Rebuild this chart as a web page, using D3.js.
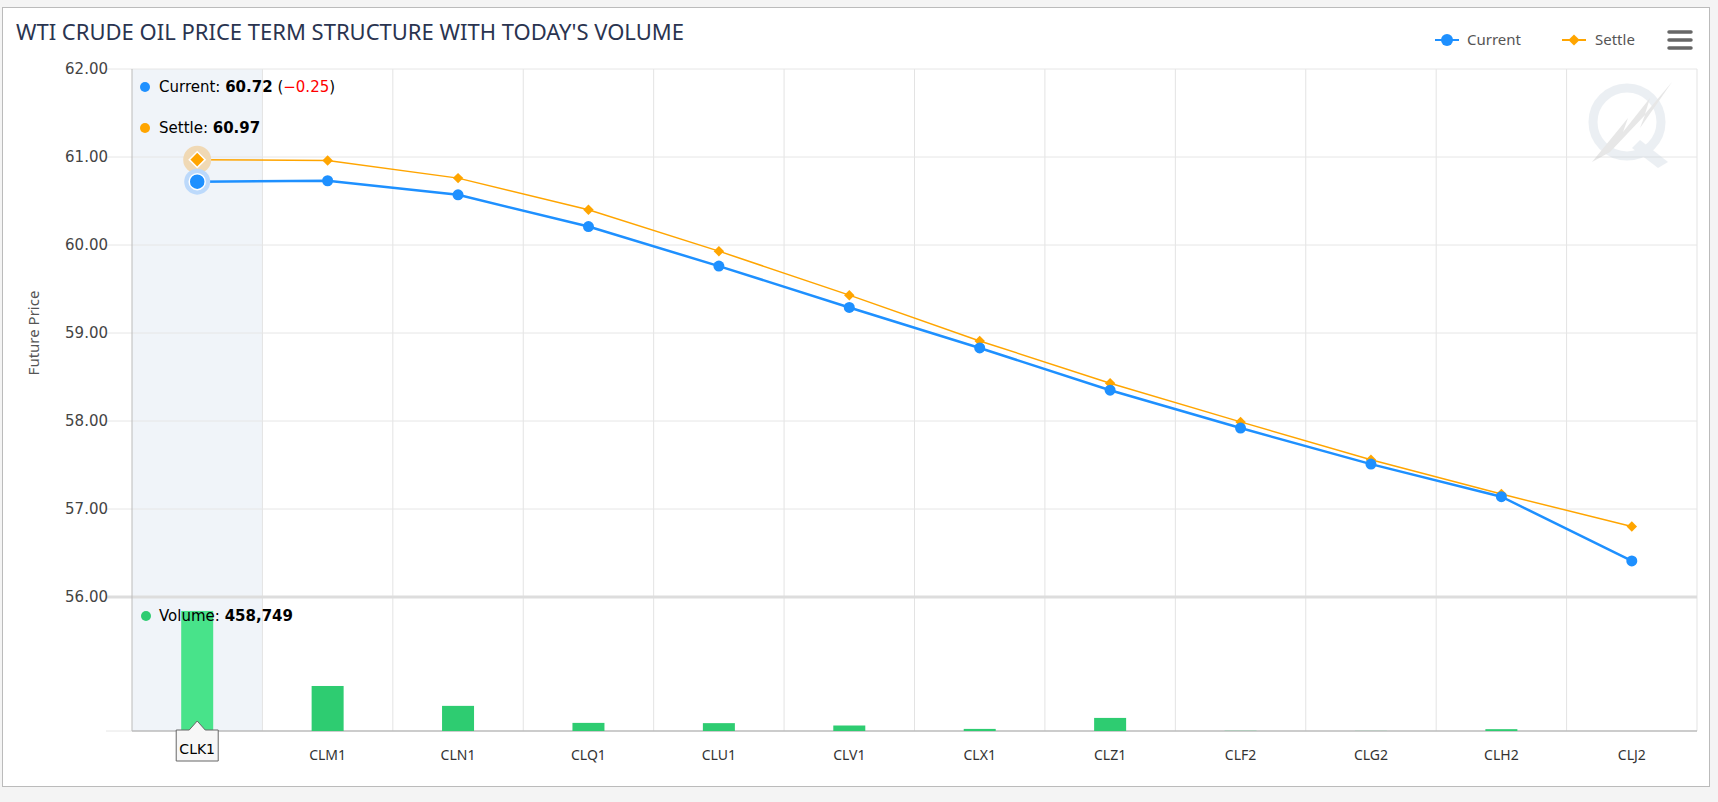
<!DOCTYPE html>
<html><head><meta charset="utf-8">
<script src="https://cdn.jsdelivr.net/npm/d3@7"></script>
<style>
body{margin:0;background:#f4f4f4;}
svg{display:block;font-family:"Noto Sans","Open Sans",sans-serif;}
</style></head><body>
<script>
const contracts = ["CLK1","CLM1","CLN1","CLQ1","CLU1","CLV1","CLX1","CLZ1","CLF2","CLG2","CLH2","CLJ2"];
const current = [60.72,60.73,60.57,60.21,59.76,59.29,58.83,58.35,57.92,57.51,57.14,56.41];
const settle = [60.97,60.96,60.76,60.40,59.93,59.43,58.91,58.43,57.99,57.56,57.17,56.80];
const volume = [458749,172000,96000,31000,30000,21000,8000,50000,600,300,7000,0];
const priceTicks = [56,57,58,59,60,61,62];

const W = 1718, H = 802;
const L = 132, R = 1697, T = 69, PB = 597, B = 731;
const svg = d3.select("body").append("svg").attr("width", W).attr("height", H);
svg.append("rect").attr("x",2.5).attr("y",7.5).attr("width",1707).attr("height",779)
  .attr("fill","#fff").attr("stroke","#bbb");

const x = d3.scaleBand().domain(contracts).range([L, R]);
const y = d3.scaleLinear().domain([56, 62]).range([PB, T]);
const yv = d3.scaleLinear().domain([0, 512000]).range([B, PB]);

// hover band
svg.append("rect").attr("x", x("CLK1")).attr("y", T).attr("width", x.bandwidth()).attr("height", B - T).attr("fill","#f0f4f9");

// grid
const g = svg.append("g");
g.selectAll(".vg").data(contracts.slice(1).concat(["end"])).enter().append("line")
  .attr("x1", (d,i) => L + (i+1)*x.bandwidth()).attr("x2", (d,i) => L + (i+1)*x.bandwidth())
  .attr("y1", T).attr("y2", B).attr("stroke","#e3e3e3");
g.selectAll(".hg").data(priceTicks).enter().append("line")
  .attr("x1", L - 26).attr("x2", R).attr("y1", d => y(d)).attr("y2", d => y(d))
  .attr("stroke", d => d === 56 ? "#ddd" : "#e6e6e6").attr("stroke-width", d => d === 56 ? 3 : 1);
g.append("line").attr("x1", L - 26).attr("x2", L).attr("y1", B).attr("y2", B).attr("stroke","#e6e6e6");
g.append("line").attr("x1", L).attr("x2", L).attr("y1", T).attr("y2", B).attr("stroke","#bbb");
g.append("line").attr("x1", L).attr("x2", R).attr("y1", B).attr("y2", B).attr("stroke","#bbb").attr("stroke-width",1.5);

// y axis labels
svg.append("g").selectAll("text").data(priceTicks).enter().append("text")
  .attr("x", 108).attr("y", d => y(d) + 5).attr("text-anchor","end")
  .attr("font-size", 15).attr("fill","#444").attr("font-family","DejaVu Sans").text(d => d.toFixed(2));
svg.append("text").attr("transform","translate(39,333) rotate(-90)").attr("text-anchor","middle")
  .attr("font-size",15).attr("fill","#555").text("Future Price");

// x labels
svg.append("g").selectAll("text").data(contracts).enter().append("text")
  .attr("x", d => x(d) + x.bandwidth()/2).attr("y", 760).attr("text-anchor","middle")
  .attr("font-size",14).attr("fill","#333").text(d => d);

// volume bars
svg.append("g").selectAll("rect").data(volume).enter().append("rect")
  .attr("x", (d,i) => x(contracts[i]) + x.bandwidth()/2 - 16).attr("width", 32)
  .attr("y", d => yv(d)).attr("height", d => B - yv(d))
  .attr("fill", (d,i) => i === 0 ? "#48e38a" : "#2ecc71");

// lines
const cx = i => x(contracts[i]) + x.bandwidth()/2;
const line = d3.line().x((d,i) => cx(i)).y(d => y(d));
svg.append("path").attr("d", line(settle)).attr("fill","none").attr("stroke","#ffa500").attr("stroke-width",1.5);
svg.append("path").attr("d", line(current)).attr("fill","none").attr("stroke","#1e90ff").attr("stroke-width",2.5);

// halos
svg.append("circle").attr("cx", cx(0)).attr("cy", y(settle[0])).attr("r", 14).attr("fill","#f0d9b5");
svg.append("circle").attr("cx", cx(0)).attr("cy", y(current[0])).attr("r", 13).attr("fill","#bcd9fb");

const diamond = d3.symbol().type(d3.symbolDiamond2);
svg.append("g").selectAll("path").data(settle).enter().append("path")
  .attr("transform", (d,i) => `translate(${cx(i)},${y(d)})`)
  .attr("d", (d,i) => diamond.size(i === 0 ? 160 : 70)())
  .attr("fill","#ffa500").attr("stroke", (d,i) => i === 0 ? "#fff" : "none").attr("stroke-width",1.5);
svg.append("g").selectAll("circle").data(current).enter().append("circle")
  .attr("cx", (d,i) => cx(i)).attr("cy", d => y(d)).attr("r", (d,i) => i === 0 ? 8 : 5.5)
  .attr("fill","#1e90ff").attr("stroke", (d,i) => i === 0 ? "#fff" : "none").attr("stroke-width",1.5);

// tooltip texts
const tf = "DejaVu Sans";
const tip = svg.append("g").attr("font-family", tf).attr("font-size", 15);
tip.append("circle").attr("cx",145).attr("cy",87).attr("r",5).attr("fill","#1e90ff");
let t = tip.append("text").attr("x",159).attr("y",92);
t.append("tspan").text("Current: ");
t.append("tspan").attr("font-weight","bold").text(current[0].toFixed(2));
t.append("tspan").text(" (");
t.append("tspan").attr("fill","red").text("\u2212" + (settle[0] - current[0]).toFixed(2));
t.append("tspan").text(")");
tip.append("circle").attr("cx",145).attr("cy",128).attr("r",5).attr("fill","#ffa500");
t = tip.append("text").attr("x",159).attr("y",133);
t.append("tspan").text("Settle: ");
t.append("tspan").attr("font-weight","bold").text(settle[0].toFixed(2));
tip.append("circle").attr("cx",146).attr("cy",616).attr("r",5).attr("fill","#2ecc71");
t = tip.append("text").attr("x",159).attr("y",621);
t.append("tspan").text("Volume: ");
t.append("tspan").attr("font-weight","bold").text(d3.format(",")(volume[0]));

// x tooltip label
const bx = cx(0);
svg.append("path").attr("d", `M${bx-21},730 H${bx-8} L${bx},721 L${bx+8},730 H${bx+21} V761 H${bx-21} Z`)
  .attr("fill","#f7f7f7").attr("stroke","#666").attr("stroke-width",1).attr("transform","translate(0,0)");
svg.append("text").attr("x", bx).attr("y", 754).attr("text-anchor","middle")
  .attr("font-family", tf).attr("font-size",14).attr("fill","#000").text("CLK1");

// title
svg.append("text").attr("x",16).attr("y",40).attr("font-size",22).attr("fill","#2a3450").text("WTI CRUDE OIL PRICE TERM STRUCTURE WITH TODAY'S VOLUME");

// legend
const lg = svg.append("g").attr("font-size",15).attr("fill","#444");
lg.append("line").attr("x1",1435).attr("x2",1459).attr("y1",40).attr("y2",40).attr("stroke","#1e90ff").attr("stroke-width",2);
lg.append("circle").attr("cx",1447).attr("cy",40).attr("r",6).attr("fill","#1e90ff");
lg.append("text").attr("x",1467).attr("y",45).attr("fill","#555").text("Current");
lg.append("line").attr("x1",1562).attr("x2",1586).attr("y1",40).attr("y2",40).attr("stroke","#ffa500").attr("stroke-width",2);
lg.append("path").attr("transform","translate(1574,40)").attr("d", diamond.size(80)()).attr("fill","#ffa500");
lg.append("text").attr("x",1595).attr("y",45).attr("fill","#555").text("Settle");
[32,40,48].forEach(yy => svg.append("line").attr("x1",1669).attr("x2",1691).attr("y1",yy).attr("y2",yy)
  .attr("stroke","#666").attr("stroke-width",3.5).attr("stroke-linecap","round"));

// watermark
const wm = svg.append("g").attr("opacity",0.35);
wm.append("circle").attr("cx",1627).attr("cy",122).attr("r",34).attr("fill","none").attr("stroke","#c8d3de").attr("stroke-width",9);
wm.append("path").attr("d","M1592,162 L1628,118 L1623,132 L1650,98 L1645,114 L1672,82 L1640,128 L1645,115 L1610,152 Z").attr("fill","#bbb");
wm.append("path").attr("d","M1640,140 L1668,162 L1658,168 L1632,148 Z").attr("fill","#c8d3de");
</script>
</body></html>
